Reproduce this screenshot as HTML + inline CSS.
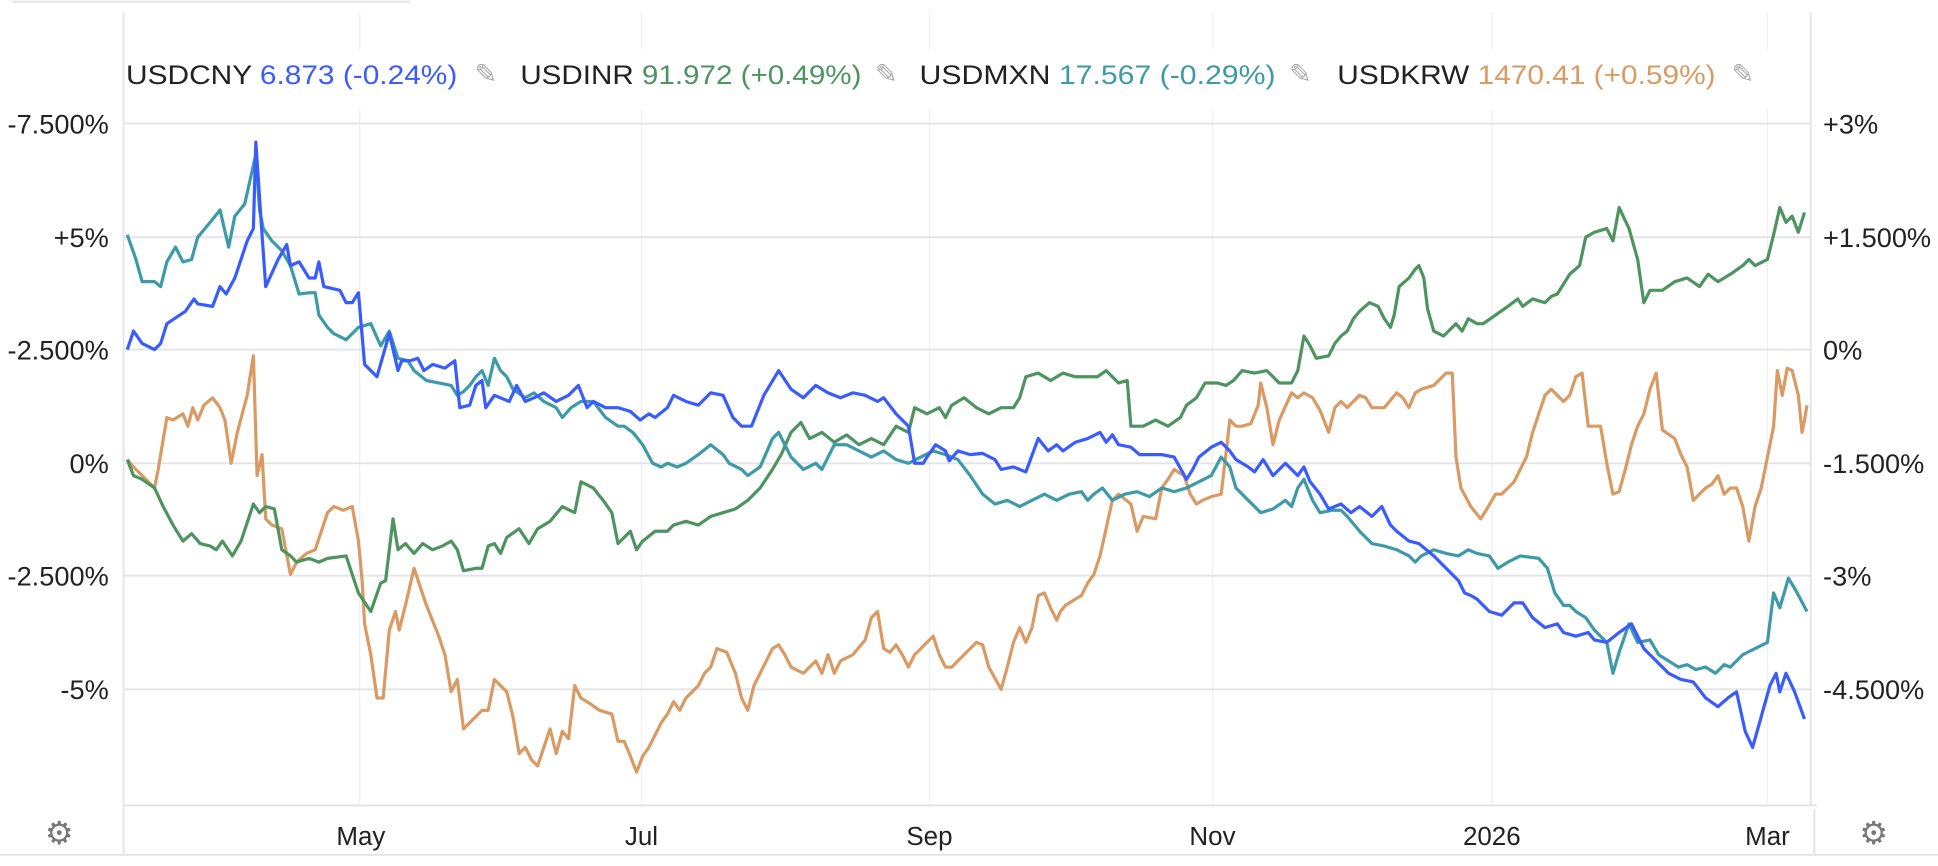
<!DOCTYPE html>
<html><head><meta charset="utf-8"><style>
html,body{margin:0;padding:0;background:#fff;width:1938px;height:866px;overflow:hidden}
svg{display:block}
text{font-family:"Liberation Sans",sans-serif}
</style></head><body>
<svg width="1938" height="866" viewBox="0 0 1568 701" preserveAspectRatio="none" xmlns="http://www.w3.org/2000/svg">
<rect width="1568" height="701" fill="#fff"/>
<line x1="10" y1="1.5" x2="332" y2="1.5" stroke="#e8e8ec" stroke-width="2"/>
<g stroke="#eef0f3" stroke-width="1">
<line x1="291" y1="10" x2="291" y2="652"/><line x1="519" y1="10" x2="519" y2="652"/>
<line x1="752" y1="10" x2="752" y2="652"/><line x1="981" y1="10" x2="981" y2="652"/>
<line x1="1207" y1="10" x2="1207" y2="652"/><line x1="1430" y1="10" x2="1430" y2="652"/>
</g>
<rect x="100" y="40" width="1340" height="48" fill="#fff"/>
<g stroke="#e4e4e8" stroke-width="1.5">
<line x1="100" y1="100" x2="1465" y2="100"/><line x1="100" y1="192" x2="1465" y2="192"/>
<line x1="100" y1="283" x2="1465" y2="283"/><line x1="100" y1="375" x2="1465" y2="375"/>
<line x1="100" y1="466" x2="1465" y2="466"/><line x1="100" y1="558" x2="1465" y2="558"/>
</g>
<g stroke="#e2e4e8" stroke-width="1.5">
<line x1="100" y1="10" x2="100" y2="692"/>
<line x1="1465" y1="10" x2="1465" y2="652"/>
<line x1="100" y1="652" x2="1470" y2="652"/>
<line x1="1468" y1="655" x2="1468" y2="692"/>
<line x1="0" y1="692" x2="1568" y2="692"/>
</g>
<g font-size="22">
<text x="102" y="68" fill="#222" textLength="268" lengthAdjust="spacingAndGlyphs">USDCNY <tspan fill="#3a5cff">6.873 (-0.24%)</tspan></text>
<text x="384" y="67" fill="#aaa" font-size="22">✎</text>
<text x="421" y="68" fill="#222" textLength="276" lengthAdjust="spacingAndGlyphs">USDINR <tspan fill="#4e9460">91.972 (+0.49%)</tspan></text>
<text x="708" y="67" fill="#aaa" font-size="22">✎</text>
<text x="744" y="68" fill="#222" textLength="288" lengthAdjust="spacingAndGlyphs">USDMXN <tspan fill="#3d9aa8">17.567 (-0.29%)</tspan></text>
<text x="1043" y="67" fill="#aaa" font-size="22">✎</text>
<text x="1082" y="68" fill="#222" textLength="306" lengthAdjust="spacingAndGlyphs">USDKRW <tspan fill="#d99a63">1470.41 (+0.59%)</tspan></text>
<text x="1401" y="67" fill="#aaa" font-size="22">✎</text>
</g>
<g font-size="22" fill="#222" text-anchor="end">
<text x="88" y="108">-7.500%</text><text x="88" y="200">+5%</text><text x="88" y="291">-2.500%</text>
<text x="88" y="383">0%</text><text x="88" y="474">-2.500%</text><text x="88" y="566">-5%</text>
</g>
<g font-size="22" fill="#222">
<text x="1475" y="108">+3%</text><text x="1475" y="200">+1.500%</text><text x="1475" y="291">0%</text>
<text x="1475" y="383">-1.500%</text><text x="1475" y="474">-3%</text><text x="1475" y="566">-4.500%</text>
</g>
<g font-size="21" fill="#222" text-anchor="middle">
<text x="292" y="684">May</text><text x="519" y="684">Jul</text><text x="752" y="684">Sep</text>
<text x="981" y="684">Nov</text><text x="1207" y="684">2026</text><text x="1430" y="684">Mar</text>
</g>
<g font-size="26" fill="#777" text-anchor="middle">
<text x="48" y="683">⚙</text><text x="1516" y="683">⚙</text>
</g>
<g fill="none" stroke-width="2.6" stroke-linejoin="round">
<polyline stroke="#d99a63" points="103,372 108,378 115,385 125,395 128,380 135,338 140,340 148,335 152,345 156,330 160,340 165,328 172,322 178,330 182,340 187,375 192,350 200,320 205,288 208,385 212,368 215,420 220,425 228,428 235,465 240,455 248,448 255,445 260,430 265,415 270,410 278,413 285,410 290,438 293,470 295,505 300,530 305,565 310,565 315,510 320,495 323,510 328,490 335,460 345,490 355,515 360,530 365,560 370,550 375,590 385,580 390,575 395,575 400,550 410,560 415,580 420,610 425,605 430,615 435,620 440,605 445,590 450,610 455,592 460,598 465,555 470,565 478,570 485,575 495,578 500,600 505,600 510,612 515,625 520,612 525,605 530,595 535,585 540,578 545,568 550,575 555,565 560,560 565,555 570,545 575,540 580,525 588,528 595,545 600,565 605,575 610,555 615,545 620,535 625,525 630,522 635,530 640,540 650,545 660,535 665,545 670,530 675,545 680,535 690,530 700,518 705,500 710,495 715,525 720,528 725,522 730,530 735,540 740,530 745,525 750,520 755,515 760,530 765,540 770,540 780,530 790,520 795,522 800,540 810,558 815,540 820,520 825,508 830,520 835,508 840,482 845,480 850,492 855,502 858,495 862,490 870,485 875,482 880,472 885,465 890,450 900,405 905,400 915,408 920,430 925,418 935,420 940,395 945,388 950,380 958,385 963,400 968,408 973,405 980,402 988,400 991,375 995,340 1000,345 1005,345 1012,343 1018,328 1020,310 1025,330 1030,360 1035,340 1045,318 1050,322 1055,318 1062,322 1068,332 1075,350 1080,330 1085,325 1090,330 1100,320 1105,322 1110,330 1120,330 1130,318 1135,322 1140,330 1145,318 1150,315 1160,312 1170,302 1175,302 1178,370 1182,395 1190,410 1198,420 1203,412 1210,400 1215,400 1220,395 1225,390 1230,380 1235,370 1240,350 1245,335 1250,320 1255,315 1260,320 1265,325 1270,320 1275,305 1280,302 1285,345 1295,345 1300,375 1305,400 1310,398 1315,380 1320,360 1325,345 1330,335 1335,315 1340,302 1345,348 1355,355 1360,368 1365,378 1370,405 1375,400 1380,395 1385,392 1390,385 1395,400 1400,395 1405,395 1410,410 1415,438 1420,410 1425,395 1430,370 1435,345 1438,300 1442,320 1446,298 1450,300 1455,320 1458,350 1460,340 1462,328"/>
<polyline stroke="#4e9460" points="103,372 108,385 115,388 125,395 132,410 140,425 148,438 155,432 162,440 170,442 175,445 180,438 188,450 195,438 205,408 210,415 215,410 222,412 228,445 235,450 240,455 250,452 258,455 265,452 280,450 290,480 300,495 308,472 312,470 318,420 322,445 328,440 335,448 342,440 350,445 358,442 365,438 370,445 375,462 385,460 390,460 395,442 400,440 405,448 410,435 420,428 428,440 435,428 445,422 455,410 465,415 470,390 480,395 488,405 495,415 500,440 510,430 515,445 520,438 530,430 540,430 545,425 555,422 565,425 575,418 585,415 595,412 605,405 615,395 625,380 632,368 640,350 648,342 655,355 665,350 675,358 685,352 695,360 705,355 715,360 725,345 735,350 740,330 750,335 760,330 765,338 770,328 780,322 790,330 800,335 810,330 820,330 825,322 830,305 840,302 850,308 860,302 870,305 880,305 888,305 895,300 905,310 912,308 915,345 925,345 935,340 945,345 955,338 960,328 968,322 975,310 985,310 992,312 998,308 1005,300 1015,302 1025,300 1035,310 1045,310 1050,300 1055,272 1060,280 1065,290 1075,288 1080,278 1085,272 1090,268 1095,258 1100,252 1108,245 1115,248 1120,258 1125,265 1128,255 1132,232 1140,225 1145,218 1148,215 1152,225 1155,250 1160,268 1168,272 1178,262 1183,268 1188,258 1195,262 1200,262 1210,255 1220,248 1228,242 1232,248 1240,242 1250,245 1255,240 1260,238 1270,222 1278,215 1283,192 1290,188 1300,185 1305,195 1310,168 1318,185 1325,210 1330,245 1335,235 1345,235 1355,228 1365,225 1375,232 1382,222 1390,228 1400,222 1410,215 1415,210 1420,215 1430,210 1435,190 1440,168 1445,180 1450,175 1455,188 1460,172"/>
<polyline stroke="#3d9aa8" points="103,190 110,210 115,228 125,228 130,232 135,212 142,200 148,212 155,210 160,192 170,180 178,170 185,200 190,175 198,165 207,125 210,170 213,185 220,195 228,203 235,215 242,238 250,237 255,237 258,255 265,265 270,270 280,275 290,265 300,262 308,280 315,268 322,290 330,292 335,300 345,308 355,310 365,312 370,320 375,317 380,312 385,305 390,300 395,312 400,290 405,300 410,305 415,315 425,322 432,318 440,325 450,330 455,338 462,330 470,325 480,325 490,338 500,345 505,345 512,350 520,360 528,375 535,378 540,375 548,378 555,375 565,368 575,360 585,368 590,375 600,380 605,385 615,378 625,355 630,350 640,370 650,380 660,375 665,380 675,360 685,360 695,365 705,370 715,365 725,372 735,375 745,370 755,365 765,368 775,372 785,385 795,400 805,408 815,405 825,410 835,405 845,400 855,405 865,400 875,398 880,405 885,400 892,395 900,405 910,400 920,398 930,402 940,395 950,398 960,395 970,390 980,385 988,370 995,378 1000,395 1010,405 1015,410 1020,415 1030,412 1040,405 1045,410 1050,395 1055,388 1062,405 1068,415 1078,413 1085,413 1090,418 1100,430 1110,440 1120,442 1130,445 1140,450 1145,455 1150,450 1160,445 1170,448 1180,450 1188,445 1195,448 1205,450 1212,460 1220,455 1230,450 1245,452 1252,460 1258,480 1265,490 1270,490 1275,495 1283,500 1290,510 1300,520 1305,545 1310,528 1318,505 1325,520 1335,518 1342,530 1350,535 1358,540 1365,538 1372,542 1380,540 1388,545 1395,538 1400,540 1410,530 1420,525 1430,520 1435,480 1440,492 1447,468 1453,478 1462,495"/>
<polyline stroke="#3a5cff" points="103,283 108,268 115,278 125,283 130,278 135,262 150,252 157,242 160,246 172,248 178,232 183,238 190,225 200,195 205,185 207,115 212,190 215,232 225,210 232,198 235,215 242,212 250,225 255,225 258,212 262,232 275,235 280,245 285,245 290,237 295,295 305,305 315,270 322,300 325,292 332,292 338,290 343,300 350,295 360,298 368,292 372,330 380,328 385,312 390,308 393,330 400,320 412,325 418,312 425,325 432,322 440,318 450,325 460,320 468,312 475,330 480,325 490,330 500,330 510,333 518,340 525,335 530,338 540,330 545,320 555,325 565,328 575,318 585,320 593,338 600,345 608,345 618,320 630,300 640,315 650,322 660,312 670,318 680,322 690,318 700,320 710,325 715,322 725,335 735,345 740,375 747,375 750,370 757,360 765,365 768,373 775,365 785,368 795,367 805,372 810,380 820,378 830,382 840,355 848,365 855,360 860,365 870,358 880,355 890,350 895,358 900,352 905,360 915,362 922,368 930,368 940,368 950,370 960,388 965,380 970,370 980,362 988,358 995,365 1000,372 1010,378 1015,382 1022,372 1030,385 1040,375 1050,385 1055,378 1060,390 1068,400 1075,412 1085,408 1093,415 1100,410 1110,418 1118,410 1125,425 1130,430 1140,438 1148,440 1160,450 1170,460 1180,470 1185,480 1190,482 1195,485 1205,495 1215,498 1225,488 1232,488 1240,500 1250,508 1260,505 1265,512 1275,515 1285,512 1290,518 1300,520 1310,512 1320,505 1330,525 1340,535 1350,545 1360,550 1370,552 1380,565 1390,572 1398,565 1405,560 1412,592 1418,605 1425,580 1432,555 1437,545 1440,560 1445,545 1452,560 1460,582"/>
</g>
</svg>
</body></html>
